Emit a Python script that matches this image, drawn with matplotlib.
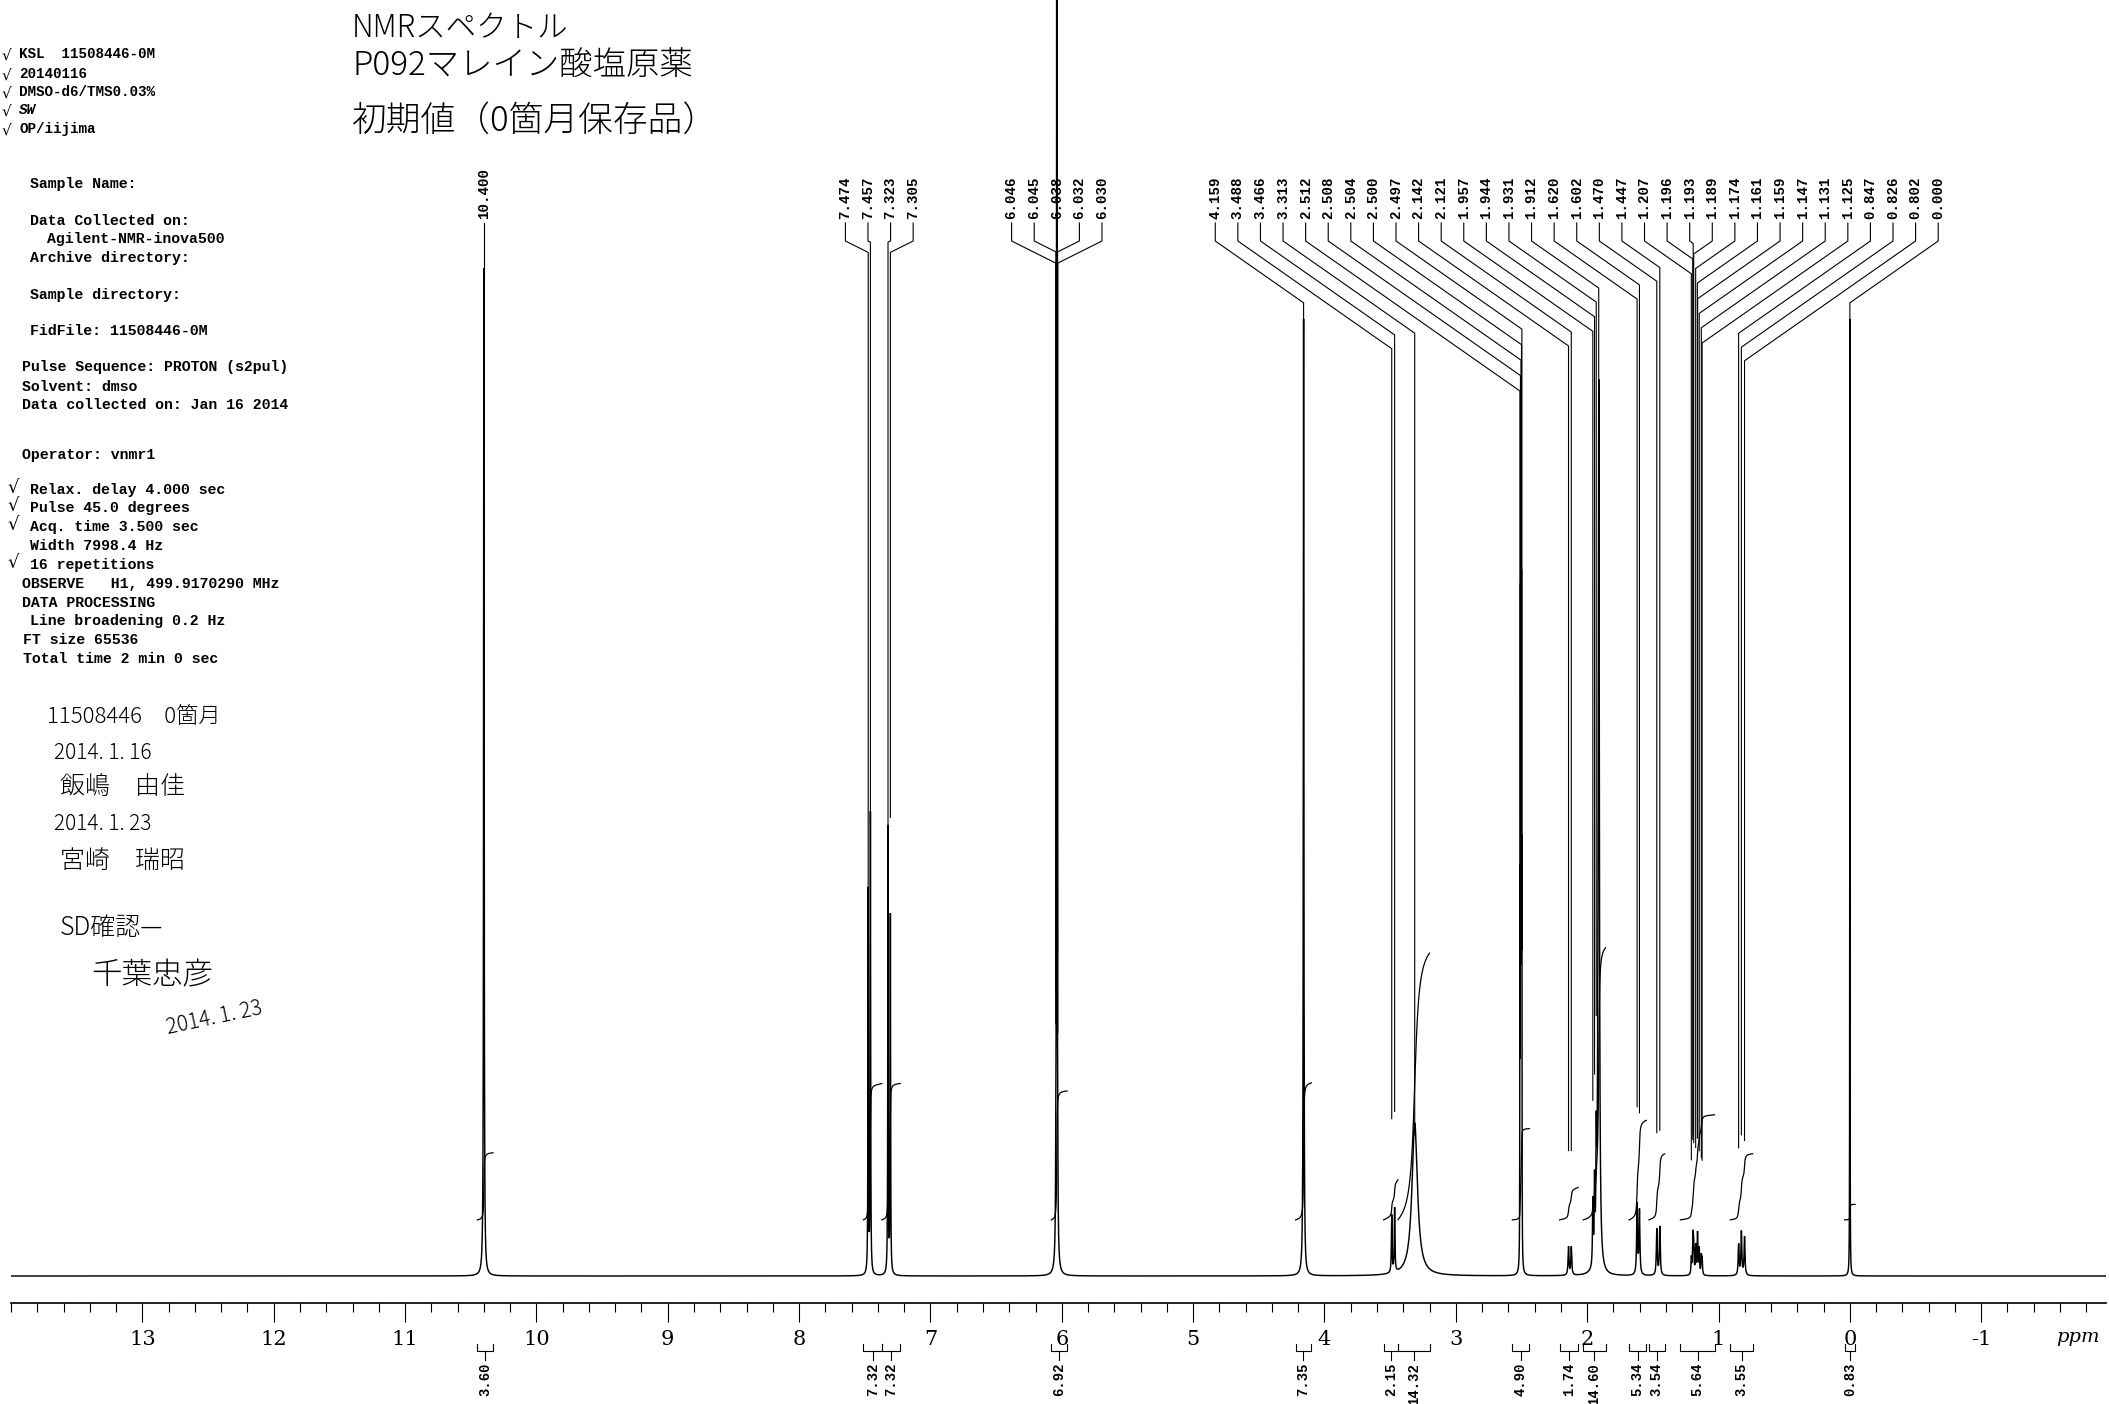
import numpy as np
import matplotlib
matplotlib.use("Agg")
import matplotlib.pyplot as plt
from matplotlib.ticker import FixedLocator, FixedFormatter

# ---------------- data ----------------
peak_ppm = [10.400,
            7.474, 7.457, 7.323, 7.305,
            6.046, 6.045, 6.038, 6.032, 6.030,
            4.159, 3.488, 3.466, 3.313,
            2.512, 2.508, 2.504, 2.500, 2.497,
            2.142, 2.121,
            1.957, 1.944, 1.931, 1.912,
            1.620, 1.602, 1.470, 1.447,
            1.207, 1.196, 1.193, 1.189, 1.174, 1.161, 1.159, 1.147, 1.131, 1.125,
            0.847, 0.826, 0.802,
            0.000]
peak_height = [79,
               30, 36, 35, 28,
               2, 2, 150, 2, 2,
               75, 4.5, 5.0, 12,
               28, 48, 62, 48, 28,
               2.2, 2.2,
               5, 6, 8, 70,
               5.5, 5.0, 3.6, 3.8,
               1.3, 1.8, 1.9, 1.8, 2.2, 1.8, 1.8, 2.0, 1.4, 1.2,
               2.4, 3.4, 3.0,
               75]
peak_width = [0.005,
              0.004, 0.004, 0.004, 0.004,
              0.003, 0.003, 0.004, 0.003, 0.003,
              0.005, 0.006, 0.006, 0.05,
              0.002, 0.002, 0.002, 0.002, 0.002,
              0.008, 0.008,
              0.006, 0.006, 0.006, 0.010,
              0.008, 0.008, 0.008, 0.008,
              0.006, 0.006, 0.006, 0.006, 0.006, 0.006, 0.006, 0.006, 0.006, 0.006,
              0.008, 0.008, 0.008,
              0.002]

integral_value = [3.60, 7.32, 7.32, 6.92, 7.35, 2.15, 14.32, 4.90,
                  1.74, 14.60, 5.34, 3.54, 5.64, 3.55, 0.83]
integral_from = [10.45, 7.51, 7.37, 6.08, 4.22, 3.55, 3.44, 2.57,
                 2.21, 2.03, 1.68, 1.53, 1.29, 0.91, 0.04]
integral_to = [10.33, 7.37, 7.23, 5.96, 4.10, 3.44, 3.20, 2.44,
               2.07, 1.86, 1.55, 1.41, 1.03, 0.74, -0.04]

major_ticks = [13, 12, 11, 10, 9, 8, 7, 6, 5, 4, 3, 2, 1, 0, -1]
major_labels = ["13", "12", "11", "10", "9", "8", "7", "6", "5", "4",
                "3", "2", "1", "0", "-1"]

header_lines = [
    ("KSL  11508446-0M", True),
    ("20140116", True),
    ("DMSO-d6/TMS0.03%", True),
    ("SW", True),
    ("OP/iijima", True),
]
param_lines = [
    ("Sample Name:", 30, 184, False),
    ("Data Collected on:", 30, 221, False),
    ("Agilent-NMR-inova500", 47, 239, False),
    ("Archive directory:", 30, 258, False),
    ("Sample directory:", 30, 295, False),
    ("FidFile: 11508446-0M", 30, 331, False),
    ("Pulse Sequence: PROTON (s2pul)", 22, 367, False),
    ("Solvent: dmso", 22, 387, False),
    ("Data collected on: Jan 16 2014", 22, 405, False),
    ("Operator: vnmr1", 22, 455, False),
    ("Relax. delay 4.000 sec", 30, 490, True),
    ("Pulse 45.0 degrees", 30, 508, True),
    ("Acq. time 3.500 sec", 30, 527, True),
    ("Width 7998.4 Hz", 30, 546, False),
    ("16 repetitions", 30, 565, True),
    ("OBSERVE   H1, 499.9170290 MHz", 22, 584, False),
    ("DATA PROCESSING", 22, 603, False),
    ("Line broadening 0.2 Hz", 30, 621, False),
    ("FT size 65536", 23, 640, False),
    ("Total time 2 min 0 sec", 23, 659, False),
]
title_lines = ["NMRスペクトル", "P092マレイン酸塩原薬", "初期値（0箇月保存品）"]
note_lines = ["11508446　0箇月", "2014. 1. 16", "飯嶋　由佳", "2014. 1. 23",
              "宮崎　瑞昭", "SD確認—", "千葉忠彦", "2014. 1. 23"]

# ---------------- figure geometry ----------------
W, H = 2109, 1404
fig = plt.figure(figsize=(W / 100, H / 100), dpi=100)
fig.patch.set_facecolor("white")

PPM_LEFT, PPM_RIGHT = 14.0, -1.95
X0, X1 = 11, 2106
BASE = 1276          # baseline, px from top
UNIT = 12.76         # px per intensity unit
AXIS_Y = 1303

mono = "Liberation Mono"
hand = "Noto Sans CJK JP"

# spectrum axes
ax = fig.add_axes([X0 / W, 1 - (BASE + 14) / H, (X1 - X0) / W, (BASE + 14) / H])
ax.set_xlim(PPM_LEFT, PPM_RIGHT)
ax.set_ylim(-14 / UNIT, BASE / UNIT)
ax.axis("off")

# overlay axes: x in ppm, y in px from top
ov = fig.add_axes([X0 / W, 0, (X1 - X0) / W, 1], zorder=3)
ov.set_xlim(PPM_LEFT, PPM_RIGHT)
ov.set_ylim(H, 0)
ov.axis("off")
ov.patch.set_alpha(0)

# ---------------- spectrum ----------------
x = np.union1d(np.arange(PPM_RIGHT, PPM_LEFT, 0.0004), peak_ppm)[::-1]
P = np.array(peak_ppm)
Hh = np.array(peak_height)
Wd = np.array(peak_width)


def spectrum(xx):
    xx = np.atleast_1d(xx)[:, None]
    return (Hh / (1 + ((xx - P) / (Wd / 2)) ** 2)).sum(axis=1)


y = spectrum(x)
ax.plot(x, y, color="black", lw=1.05, solid_joinstyle="miter")

# ---------------- integrals ----------------
INT_SCALE = 1.46
INT_OFFSET = 4.4
for val, a, b in zip(integral_value, integral_from, integral_to):
    xi = np.arange(a, b, -0.0004)
    yi = spectrum(xi)
    cum = np.cumsum(yi)
    cum = cum / cum[-1]
    ax.plot(xi, INT_OFFSET + val * INT_SCALE * cum, color="black", lw=0.9)
    # bracket under axis
    ov.plot([a, a, b, b], [1344, 1351, 1351, 1344], color="black", lw=0.8)
    mid = (a + b) / 2
    ov.plot([mid, mid], [1351, 1360], color="black", lw=0.8)
    ov.text(mid, 1363, f"{val:.2f}", rotation=90, ha="center", va="top",
            family=mono, fontsize=10, weight="bold")

# ---------------- peak labels ----------------
LABEL_STEP = 0.172
order = sorted(range(len(peak_ppm)), key=lambda i: -peak_ppm[i])
groups = [[i] for i in order]


def span(g):
    c = (peak_ppm[g[0]] + peak_ppm[g[-1]]) / 2
    half = len(g) * LABEL_STEP / 2
    return c + half, c - half


merged = True
while merged:
    merged = False
    for k in range(len(groups) - 1):
        if span(groups[k])[1] < span(groups[k + 1])[0]:
            groups[k] = groups[k] + groups[k + 1]
            del groups[k + 1]
            merged = True
            break

PX_PER_PPM = (X1 - X0) / (PPM_LEFT - PPM_RIGHT)
TXT_BOTTOM, Y0, Y1 = 219, 223, 241


def inten_to_px(xp, val):
    d = ax.transData.transform((xp, val))
    return ov.transData.inverted().transform(d)[1]


for g in groups:
    hi, lo = span(g)
    slope = 0.7 if len(g) > 8 else 0.5
    for j, i in enumerate(g):
        lx = hi - LABEL_STEP / 2 - j * LABEL_STEP
        px = peak_ppm[i]
        ov.text(lx, TXT_BOTTOM, f"{px:.3f}", rotation=90, ha="center",
                va="bottom", family=mono, fontsize=10.2, weight="bold")
        top_val = float(spectrum(px)[0])
        if top_val >= 30 or peak_width[i] >= 0.02:
            y_end = inten_to_px(px, top_val) + 12   # run into the peak tip
        else:
            y_end = inten_to_px(px, top_val + 7.5)
        y2 = Y1 + slope * abs(lx - px) * PX_PER_PPM
        if abs(lx - px) * PX_PER_PPM < 0.5:
            xs, ys = [px, px], [Y0, max(y_end, Y0)]
        else:
            xs, ys = [lx, lx, px], [Y0, Y1, y2]
            if y_end > y2:
                xs.append(px)
                ys.append(y_end)
        ov.plot(xs, ys, color="black", lw=0.8)

# ---------------- ppm axis ----------------
xa = fig.add_axes([X0 / W, 1 - AXIS_Y / H, (X1 - X0) / W, 0.5 / H])
xa.set_xlim(PPM_LEFT, PPM_RIGHT)
xa.set_yticks([])
for s in ("left", "right", "top"):
    xa.spines[s].set_visible(False)
xa.spines["bottom"].set_linewidth(1.2)
xa.patch.set_alpha(0)
xa.xaxis.set_major_locator(FixedLocator(major_ticks))
xa.xaxis.set_major_formatter(FixedFormatter(major_labels))
xa.xaxis.set_minor_locator(FixedLocator(np.round(np.arange(14.0, -1.81, -0.2), 2)))
xa.tick_params(axis="x", which="major", direction="out", length=13.5, width=0.8,
               pad=6, labelsize=15)
xa.tick_params(axis="x", which="minor", direction="out", length=6.5, width=0.8)
for t in xa.get_xticklabels():
    t.set_family("DejaVu Serif")
fig.text(2078 / W, 1 - 1337 / H, "ppm", ha="center", va="center",
         family="DejaVu Serif", style="italic", fontsize=14)

# ---------------- header block ----------------
for k, (txt, chk) in enumerate(header_lines):
    yy = [54, 74, 92, 110, 129][k]
    fig.text(19 / W, 1 - yy / H, txt, ha="left", va="center", family=mono,
             fontsize=10.3, weight="bold", style="italic" if txt == "SW" else "normal")
    if chk:
        fig.text(2 / W, 1 - (yy + 1) / H, "√", ha="left", va="center",
                 family="DejaVu Sans", fontsize=11)
for txt, xx, yy, chk in param_lines:
    fig.text(xx / W, 1 - yy / H, txt, ha="left", va="center", family=mono,
             fontsize=10.7, weight="bold")
    if chk:
        fig.text(7 / W, 1 - (yy - 2) / H, "√", ha="left", va="center",
                 family="DejaVu Sans", fontsize=13)

# ---------------- handwritten notes ----------------
for txt, yy, fs in zip(title_lines, [28, 67, 121], [22, 24, 25]):
    fig.text(352 / W, 1 - yy / H, txt, ha="left", va="center", family=hand,
             fontsize=fs, weight="light")
note_pos = [(47, 717, 16), (54, 753, 15), (60, 787, 18), (54, 824, 15),
            (60, 861, 18), (60, 928, 18), (91, 975, 22), (164, 1018, 15)]
for (xx, yy, fs), txt in zip(note_pos, note_lines):
    rot = 12 if (xx, yy) == (164, 1018) else 0
    fig.text(xx / W, 1 - yy / H, txt, ha="left", va="center", family=hand,
             fontsize=fs, weight="light", rotation=rot)

fig.savefig("out.png", dpi=100, facecolor="white")
